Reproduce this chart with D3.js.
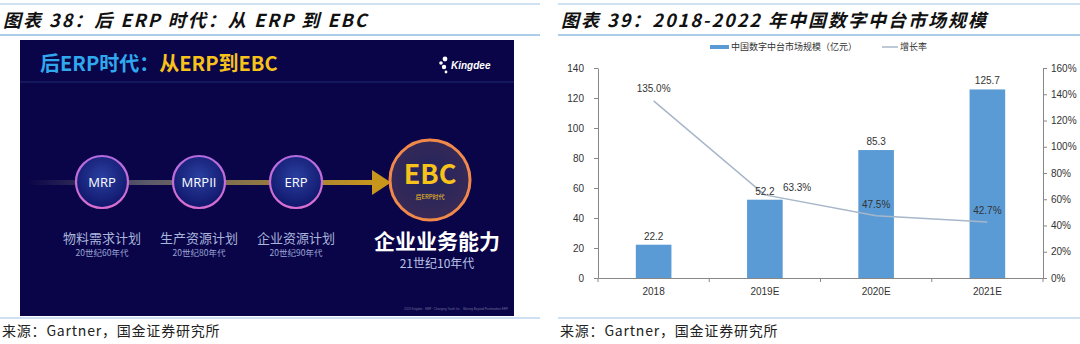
<!DOCTYPE html>
<html lang='zh'>
<head>
  <meta charset='utf-8'/>
  <title>后ERP时代 / 中国数字中台市场规模</title>
  <script src='https://d3js.org/d3.v7.min.js'></script>
  <style>
    body{margin:0;background:#ffffff;}
    svg{display:block;font-family:"Liberation Sans","Noto Sans CJK SC",sans-serif;}
  </style>
</head>
<body>
<svg id='chart'></svg>
<script>
// Data — right chart
const years   = ['2018', '2019E', '2020E', '2021E'];
const market  = [22.2, 52.2, 85.3, 125.7];          // 亿元
const growth  = [135.0, 63.3, 47.5, 42.7];          // %
const leftTicks  = [0, 20, 40, 60, 80, 100, 120, 140];
const rightTicks = [0, 20, 40, 60, 80, 100, 120, 140, 160];

// Data — left diagram
const stages    = ['MRP', 'MRPII', 'ERP'];
const stageName = ['物料需求计划', '生产资源计划', '企业资源计划'];
const stageEra  = ['20世纪60年代', '20世纪80年代', '20世纪90年代'];

const W = 1080, H = 344;
const svg = d3.select('#chart').attr('width', W).attr('height', H);

const cjk = '"Noto Sans CJK SC","Liberation Sans",sans-serif';

// ---------- Header / footer rules ----------
function frame(x0, x1, title) {
  svg.append('line').attr('x1', x0).attr('x2', x1).attr('y1', 4).attr('y2', 4)
    .attr('stroke', '#9dc3e6').attr('stroke-width', 1);
  svg.append('text').attr('x', x0 + 3).attr('y', 27)
    .attr('font-family', cjk).attr('font-size', 18).attr('font-weight', 'bold')
    .attr('font-style', 'italic').attr('fill', '#111')
    .attr('letter-spacing', 2)
    .text(title);
  svg.append('line').attr('x1', x0).attr('x2', x1).attr('y1', 35).attr('y2', 35)
    .attr('stroke', '#5b9bd5').attr('stroke-width', 1.2);
  svg.append('line').attr('x1', x0).attr('x2', x1).attr('y1', 318).attr('y2', 318)
    .attr('stroke', '#9dc3e6').attr('stroke-width', 1.2);
  svg.append('text').attr('x', x0 + 2).attr('y', 336)
    .attr('font-family', cjk).attr('font-size', 14).attr('fill', '#222')
    .attr('letter-spacing', 0.8)
    .text('来源：Gartner，国金证券研究所');
}
frame(0, 540, '图表 38：后 ERP 时代：从 ERP 到 EBC');
frame(558, 1080, '图表 39：2018-2022 年中国数字中台市场规模');

// ---------- Left: slide ----------
const defs = svg.append('defs');
const slide = svg.append('g');
slide.append('rect').attr('x', 20).attr('y', 40).attr('width', 494).attr('height', 276)
  .attr('fill', '#0a0448');
slide.append('line').attr('x1', 20).attr('x2', 514).attr('y1', 82).attr('y2', 82)
  .attr('stroke', '#1d2a6e').attr('stroke-width', 1);

const head = slide.append('text').attr('x', 40).attr('y', 71)
  .attr('font-family', cjk).attr('font-size', 20).attr('font-weight', 'bold');
head.append('tspan').attr('fill', '#2fa8ee').text('后ERP时代：');
head.append('tspan').attr('fill', '#f6c21b').text('从ERP到EBC');

// Kingdee logo
[[441, 63, 1.8], [445, 59, 2.4], [444, 67, 2.2], [446, 72, 1.4]].forEach(([cx, cy, r]) =>
  slide.append('circle').attr('cx', cx).attr('cy', cy).attr('r', r).attr('fill', '#fff'));
slide.append('text').attr('x', 451).attr('y', 69).attr('font-size', 10)
  .attr('font-weight', 'bold').attr('font-style', 'italic').attr('fill', '#fff').text('Kingdee');

// arrow path
const ag = defs.append('linearGradient').attr('id', 'arrowGrad');
ag.append('stop').attr('offset', '0%').attr('stop-color', '#0a0448');
ag.append('stop').attr('offset', '35%').attr('stop-color', '#5b5a6a');
ag.append('stop').attr('offset', '100%').attr('stop-color', '#c8961c');
slide.append('rect').attr('x', 26).attr('y', 180).attr('width', 350).attr('height', 5)
  .attr('fill', 'url(#arrowGrad)');
slide.append('path').attr('d', 'M372,170 L391,182.5 L372,195 Z').attr('fill', '#c8961c');

const stageX = d3.scalePoint().domain(stages).range([102, 296]);

const nodeFill = defs.append('radialGradient').attr('id', 'nodeFill')
  .attr('cx', '50%').attr('cy', '40%').attr('r', '60%');
nodeFill.append('stop').attr('offset', '0%').attr('stop-color', '#2a3fa0');
nodeFill.append('stop').attr('offset', '100%').attr('stop-color', '#10166a');
const nodeStroke = defs.append('linearGradient').attr('id', 'nodeStroke')
  .attr('x1', 0).attr('y1', 0).attr('x2', 0).attr('y2', 1);
nodeStroke.append('stop').attr('offset', '0%').attr('stop-color', '#b46be0');
nodeStroke.append('stop').attr('offset', '100%').attr('stop-color', '#d86fd0');

const nodes = slide.selectAll('.node').data(stages).join('g')
  .attr('class', 'node')
  .attr('transform', d => `translate(${stageX(d)},182)`);
nodes.append('circle').attr('r', 26).attr('fill', 'url(#nodeFill)')
  .attr('stroke', 'url(#nodeStroke)').attr('stroke-width', 2.2);
nodes.append('text').attr('text-anchor', 'middle').attr('dy', 5)
  .attr('font-family', '"Open Sans",sans-serif').attr('font-size', 13).attr('fill', '#fff')
  .text(d => d);

slide.selectAll('.stageName').data(stages).join('text')
  .attr('class', 'stageName')
  .attr('x', d => stageX(d)).attr('y', 243).attr('text-anchor', 'middle')
  .attr('font-family', cjk).attr('font-size', 13).attr('fill', '#a9b6dc')
  .text((d, i) => stageName[i]);
slide.selectAll('.stageEra').data(stages).join('text')
  .attr('class', 'stageEra')
  .attr('x', d => stageX(d)).attr('y', 256).attr('text-anchor', 'middle')
  .attr('font-family', cjk).attr('font-size', 8.5).attr('fill', '#9aa6d6')
  .text((d, i) => stageEra[i]);

// EBC node
const ebcFill = defs.append('radialGradient').attr('id', 'ebcFill')
  .attr('cx', '50%').attr('cy', '45%').attr('r', '60%');
ebcFill.append('stop').attr('offset', '0%').attr('stop-color', '#22245e');
ebcFill.append('stop').attr('offset', '100%').attr('stop-color', '#3a2a55');
const ebc = slide.append('g').attr('transform', 'translate(430,180)');
ebc.append('circle').attr('r', 40).attr('fill', 'url(#ebcFill)')
  .attr('stroke', '#f0894a').attr('stroke-width', 3);
ebc.append('text').attr('text-anchor', 'middle').attr('y', 4)
  .attr('font-family', cjk).attr('font-size', 27).attr('font-weight', 'bold')
  .attr('fill', '#f6c21b').text('EBC');
ebc.append('text').attr('text-anchor', 'middle').attr('y', 19)
  .attr('font-family', cjk).attr('font-size', 6).attr('fill', '#f6c21b').text('后ERP时代');

slide.append('text').attr('x', 437).attr('y', 249).attr('text-anchor', 'middle')
  .attr('font-family', cjk).attr('font-size', 21).attr('font-weight', 'bold')
  .attr('fill', '#fff').text('企业业务能力');
slide.append('text').attr('x', 437).attr('y', 268).attr('text-anchor', 'middle')
  .attr('font-family', cjk).attr('font-size', 12).attr('fill', '#b9c3e6').text('21世纪10年代');
slide.append('text').attr('x', 508).attr('y', 310).attr('text-anchor', 'end')
  .attr('font-size', 3).attr('fill', '#6b6f9a')
  .text('2019 Kingdee · EBP · Changing Youth Inc. · Moving Beyond Postmodern ERP');

// ---------- Right: chart ----------
const plot = {left: 598, right: 1043, top: 68, bottom: 278};
const x = d3.scaleBand().domain(years).range([plot.left, plot.right]);
const y = d3.scaleLinear().domain([0, 140]).range([plot.bottom, plot.top]);
const y2 = d3.scaleLinear().domain([0, 160]).range([plot.bottom, plot.top]);
const barW = x.bandwidth() * 0.32;
const barColor = '#5b9bd5', lineColor = '#a7b7c9';

const chart = svg.append('g');

chart.selectAll('.bar').data(years).join('rect')
  .attr('class', 'bar')
  .attr('x', d => x(d) + (x.bandwidth() - barW) / 2)
  .attr('width', barW)
  .attr('y', (d, i) => y(market[i]))
  .attr('height', (d, i) => y(0) - y(market[i]))
  .attr('fill', barColor);

const axisStyle = g => {
  g.selectAll('.domain').attr('stroke', '#888');
  g.selectAll('.tick line').attr('stroke', '#888');
  g.selectAll('text').attr('font-size', 10).attr('fill', '#333')
    .attr('font-family', '"Liberation Sans",sans-serif');
};
chart.append('g').attr('transform', `translate(${plot.left},0)`)
  .call(d3.axisLeft(y).tickValues(leftTicks).tickSize(4).tickSizeOuter(0).tickPadding(10))
  .call(axisStyle);
chart.append('g').attr('transform', `translate(${plot.right},0)`)
  .call(d3.axisRight(y2).tickValues(rightTicks).tickSize(4).tickSizeOuter(0)
    .tickPadding(4).tickFormat(d => d + '%'))
  .call(axisStyle);

const xAxis = chart.append('g').attr('transform', `translate(0,${plot.bottom})`)
  .call(d3.axisBottom(x).tickSize(0).tickPadding(10))
  .call(axisStyle);
xAxis.selectAll('.boundary').data(d3.range(years.length + 1)).join('line')
  .attr('class', 'boundary')
  .attr('x1', i => plot.left + i * x.step()).attr('x2', i => plot.left + i * x.step())
  .attr('y1', 0).attr('y2', 4).attr('stroke', '#888');

const line = d3.line().x((d, i) => x(years[i]) + x.bandwidth() / 2).y(d => y2(d));
chart.append('path').datum(growth).attr('d', line)
  .attr('fill', 'none').attr('stroke', lineColor).attr('stroke-width', 1.5);

chart.selectAll('.barLabel').data(years).join('text')
  .attr('class', 'barLabel')
  .attr('x', d => x(d) + x.bandwidth() / 2)
  .attr('y', (d, i) => y(market[i]) - 5)
  .attr('text-anchor', 'middle').attr('font-size', 10).attr('fill', '#333')
  .text((d, i) => market[i].toFixed(1));

const growthOffset = [[0, -9, 'middle'], [18, -4, 'start'], [0, -8, 'middle'], [0, -8, 'middle']];
chart.selectAll('.lineLabel').data(years).join('text')
  .attr('class', 'lineLabel')
  .attr('x', (d, i) => x(d) + x.bandwidth() / 2 + growthOffset[i][0])
  .attr('y', (d, i) => y2(growth[i]) + growthOffset[i][1])
  .attr('text-anchor', (d, i) => growthOffset[i][2])
  .attr('font-size', 10).attr('fill', '#333')
  .text((d, i) => growth[i].toFixed(1) + '%');

// legend
const legend = chart.append('g').attr('transform', 'translate(710,47)');
legend.append('rect').attr('x', 0).attr('y', -2).attr('width', 19).attr('height', 4).attr('fill', barColor);
legend.append('text').attr('x', 21).attr('y', 3).attr('font-family', cjk)
  .attr('font-size', 9).attr('fill', '#333').text('中国数字中台市场规模（亿元）');
legend.append('line').attr('x1', 172).attr('x2', 188).attr('y1', 0).attr('y2', 0)
  .attr('stroke', lineColor).attr('stroke-width', 1.5);
legend.append('text').attr('x', 190).attr('y', 3).attr('font-family', cjk)
  .attr('font-size', 9).attr('fill', '#333').text('增长率');
</script>
</body>
</html>
